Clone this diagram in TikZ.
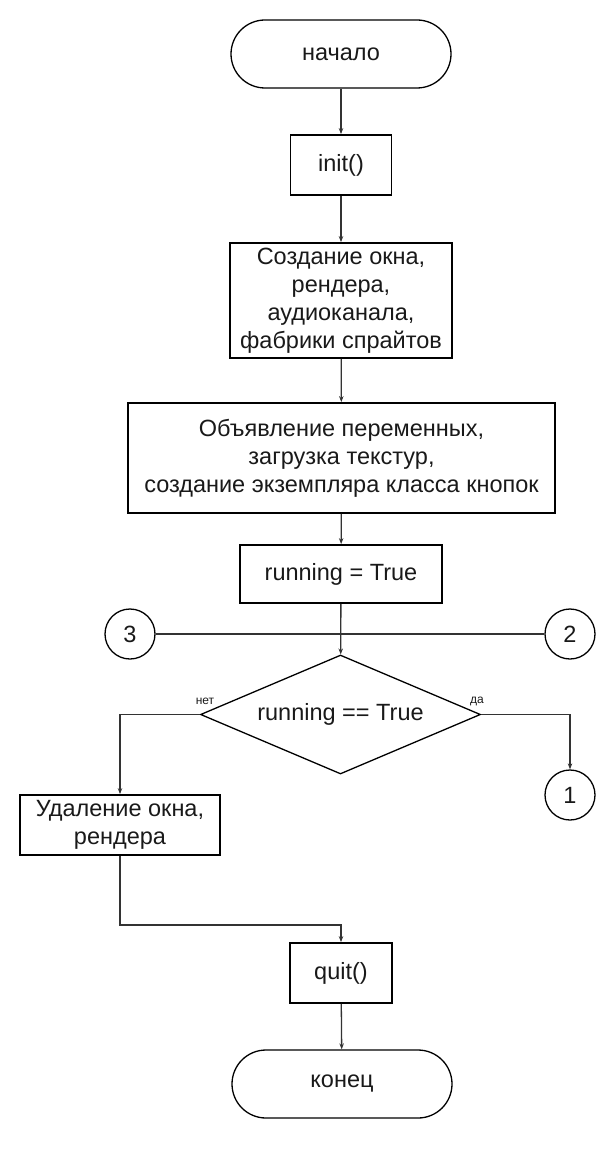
\documentclass[tikz,border=0pt]{standalone}
\usepackage{fontspec}
\setmainfont{Liberation Sans}
\usetikzlibrary{shapes.geometric,arrows.meta}
\begin{document}
\begin{tikzpicture}[x=1pt,y=-1pt,
  every node/.style={font=\fontsize{23.5}{28}\selectfont, align=center, inner sep=0pt, text=black!90},
  box/.style={draw=black, line width=1.8pt, rectangle},
  term/.style={draw=black, line width=1.3pt, rectangle, rounded corners=34pt, minimum width=220pt, minimum height=68pt},
  conn/.style={draw=black, line width=1.3pt, circle, minimum size=50pt},
  dec/.style={draw=black, line width=1.3pt, diamond, aspect=2.35, minimum width=280pt, minimum height=119pt},
  lbl/.style={font=\fontsize{12}{14}\selectfont},
  line/.style={draw=black!80, line width=1.3pt},
  arr/.style={line, -{Stealth[length=6pt,width=4.5pt]}}
]
\useasboundingbox (0,0) rectangle (615,1150);
\node[term] (start) at (341,54) {начало};
\node[box, minimum width=101pt, minimum height=60pt] (init) at (341,165) {init()};
\node[box, minimum width=222pt, minimum height=115pt] (create) at (341,300.5) {Создание окна,\\рендера,\\аудиоканала,\\фабрики спрайтов};
\node[box, minimum width=427pt, minimum height=110pt] (decl) at (341.5,458) {Объявление переменных,\\загрузка текстур,\\создание экземпляра класса кнопок};
\node[box, minimum width=202pt, minimum height=58pt] (run) at (341,574) {running = True};
\node[conn] (c3) at (130,634) {3};
\node[conn] (c2) at (570,634) {2};
\node[dec] (cond) at (340.5,714.5) {running == True};
\node[lbl] (no) at (205,701) {нет};
\node[lbl] (yes) at (477,701) {да};
\node[box, minimum width=200pt, minimum height=60pt] (del) at (120,825) {Удаление окна,\\рендера};
\node[conn] (c1) at (570,795) {1};
\node[box, minimum width=102pt, minimum height=60pt] (quit) at (341,973) {quit()};
\node[term] (end) at (342,1084) {конец};
\coordinate (bend) at (120,925);

\draw[arr] (start) -- (init);
\draw[arr] (init) -- (create);
\draw[arr] (create) -- (decl);
\draw[arr] (decl) -- (run);
\draw[arr] (run) -- (cond);
\draw[line] (c3) -- (c2);
\draw[arr] (cond.west) -| (del.north);
\draw[arr] (cond.east) -| (c1.north);
\draw[arr] (del.south) -- (bend) -| (quit.north);
\draw[arr] (quit) -- (end);
\end{tikzpicture}
\end{document}
